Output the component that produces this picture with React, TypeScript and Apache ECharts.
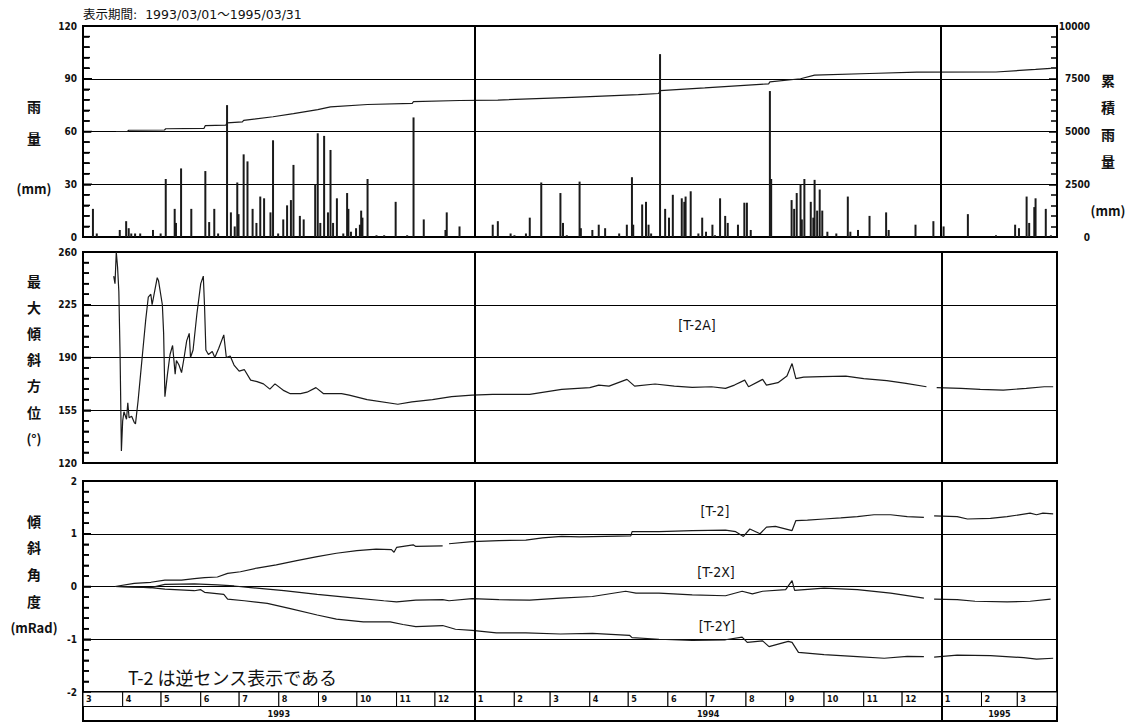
import React, { useEffect, useRef } from 'react';
import * as echarts from 'echarts';

// ---------- axis structure ----------
const AXIS_START = '1993-03-01';
const AXIS_END = '1995-04-01';
const yearBreaks = ['1994-01-01', '1995-01-01'];
const monthStarts = [
  '1993-03-01', '1993-04-01', '1993-05-01', '1993-06-01', '1993-07-01', '1993-08-01',
  '1993-09-01', '1993-10-01', '1993-11-01', '1993-12-01', '1994-01-01', '1994-02-01',
  '1994-03-01', '1994-04-01', '1994-05-01', '1994-06-01', '1994-07-01', '1994-08-01',
  '1994-09-01', '1994-10-01', '1994-11-01', '1994-12-01', '1995-01-01', '1995-02-01',
  '1995-03-01',
];
const monthLabels = ['3', '4', '5', '6', '7', '8', '9', '10', '11', '12', '1', '2', '3', '4', '5', '6', '7', '8', '9', '10', '11', '12', '1', '2', '3'];
const yearStarts = ['1993-03-01', '1994-01-01', '1995-01-01'];
const yearLabels = ['1993', '1994', '1995'];

// ---------- daily rainfall (mm) ----------
const rainfall: [string, number][] = [
  ['1993-03-08', 16], ['1993-03-11', 2], ['1993-03-29', 4], ['1993-04-03', 9], ['1993-04-05', 5],
  ['1993-04-07', 2], ['1993-04-10', 2], ['1993-04-14', 2], ['1993-04-24', 4], ['1993-04-30', 2],
  ['1993-05-04', 33], ['1993-05-11', 16], ['1993-05-12', 8], ['1993-05-16', 39], ['1993-05-24', 16],
  ['1993-06-04', 37.5], ['1993-06-07', 8.5], ['1993-06-11', 16], ['1993-06-14', 2], ['1993-06-21', 75],
  ['1993-06-24', 14], ['1993-06-27', 6], ['1993-06-29', 31], ['1993-06-30', 13], ['1993-07-04', 47],
  ['1993-07-07', 43], ['1993-07-11', 16], ['1993-07-14', 8], ['1993-07-17', 23], ['1993-07-20', 22],
  ['1993-07-25', 14], ['1993-07-27', 55], ['1993-07-31', 2], ['1993-08-04', 10], ['1993-08-07', 18],
  ['1993-08-10', 21], ['1993-08-12', 41], ['1993-08-17', 12], ['1993-08-20', 10], ['1993-08-29', 30],
  ['1993-08-31', 59], ['1993-09-02', 8], ['1993-09-05', 57.5], ['1993-09-08', 14], ['1993-09-10', 49.5],
  ['1993-09-12', 8], ['1993-09-15', 22], ['1993-09-20', 2], ['1993-09-23', 25], ['1993-09-24', 16],
  ['1993-09-26', 3], ['1993-09-30', 5], ['1993-10-03', 7], ['1993-10-04', 15], ['1993-10-05', 11],
  ['1993-10-09', 33], ['1993-10-16', 1], ['1993-10-22', 1], ['1993-10-31', 20], ['1993-11-09', 1],
  ['1993-11-14', 68], ['1993-11-22', 10], ['1993-12-09', 4], ['1993-12-10', 14], ['1993-12-20', 6],
  ['1994-01-15', 7], ['1994-01-19', 9], ['1994-01-29', 2], ['1994-02-01', 1], ['1994-02-10', 2],
  ['1994-02-13', 11], ['1994-02-22', 31], ['1994-03-09', 25], ['1994-03-11', 8], ['1994-03-14', 1],
  ['1994-03-24', 31.5], ['1994-03-25', 5], ['1994-04-03', 4], ['1994-04-08', 7], ['1994-04-13', 5],
  ['1994-04-24', 2], ['1994-04-30', 7], ['1994-05-04', 34], ['1994-05-05', 7], ['1994-05-12', 18.5],
  ['1994-05-15', 20], ['1994-05-17', 7], ['1994-05-19', 2], ['1994-05-26', 104], ['1994-05-30', 16],
  ['1994-06-02', 11], ['1994-06-05', 24], ['1994-06-12', 22], ['1994-06-14', 20], ['1994-06-15', 23],
  ['1994-06-19', 26], ['1994-06-25', 2], ['1994-06-28', 11], ['1994-07-01', 3], ['1994-07-06', 7],
  ['1994-07-08', 1], ['1994-07-12', 22], ['1994-07-16', 12], ['1994-07-18', 8], ['1994-07-26', 7],
  ['1994-07-31', 19.5], ['1994-08-02', 19.5], ['1994-08-05', 4], ['1994-08-20', 83], ['1994-08-21', 33],
  ['1994-09-06', 21], ['1994-09-08', 16], ['1994-09-10', 25], ['1994-09-13', 30], ['1994-09-14', 10],
  ['1994-09-16', 33], ['1994-09-21', 20], ['1994-09-23', 11], ['1994-09-24', 32.5], ['1994-09-26', 15],
  ['1994-09-28', 27], ['1994-09-30', 15], ['1994-10-04', 3], ['1994-10-11', 2], ['1994-10-20', 23],
  ['1994-10-22', 3], ['1994-10-28', 4], ['1994-11-06', 12], ['1994-11-19', 14], ['1994-11-21', 4],
  ['1994-12-12', 7], ['1994-12-26', 9], ['1995-01-03', 6], ['1995-01-22', 13], ['1995-02-13', 1],
  ['1995-02-28', 7], ['1995-03-03', 5], ['1995-03-09', 23], ['1995-03-11', 8], ['1995-03-15', 17],
  ['1995-03-16', 22], ['1995-03-24', 16], ['1995-03-28', 1],
];

// ---------- cumulative rainfall (mm, right axis) ----------
const cumulativeRain: [string, number][] = [
  ['1993-03-26', 5000], ['1993-04-04', 5000], ['1993-04-05', 5060], ['1993-05-03', 5070],
  ['1993-05-04', 5130], ['1993-06-03', 5150], ['1993-06-04', 5280], ['1993-06-20', 5300],
  ['1993-06-21', 5410], ['1993-07-03', 5460], ['1993-07-04', 5530], ['1993-07-27', 5700],
  ['1993-08-12', 5850], ['1993-08-31', 6040], ['1993-09-10', 6170], ['1993-10-09', 6280],
  ['1993-11-13', 6330], ['1993-11-14', 6420], ['1993-12-20', 6470], ['1994-01-19', 6490],
  ['1994-03-18', 6620], ['1994-05-09', 6750], ['1994-05-25', 6800], ['1994-05-26', 6940],
  ['1994-06-30', 7070], ['1994-08-19', 7260], ['1994-08-20', 7350], ['1994-09-13', 7500],
  ['1994-09-24', 7670], ['1994-11-06', 7750], ['1994-12-13', 7810], ['1995-02-13', 7820],
  ['1995-03-16', 7940], ['1995-03-28', 7990],
];

// ---------- max tilt azimuth [T-2A] (deg) ----------
const azimuthT2A: [string, number | null][] = [
  ['1993-03-25', 244], ['1993-03-26', 239], ['1993-03-27', 260], ['1993-03-28', 250], ['1993-03-29', 234],
  ['1993-03-30', 190], ['1993-03-31', 128], ['1993-04-01', 148], ['1993-04-02', 154], ['1993-04-04', 149],
  ['1993-04-05', 160], ['1993-04-06', 150], ['1993-04-08', 151], ['1993-04-10', 147], ['1993-04-11', 146],
  ['1993-04-13', 161], ['1993-04-15', 179], ['1993-04-17', 197], ['1993-04-19', 215], ['1993-04-21', 230],
  ['1993-04-23', 232], ['1993-04-24', 225], ['1993-04-26', 234], ['1993-04-28', 243], ['1993-04-29', 241],
  ['1993-05-02', 225], ['1993-05-03', 206], ['1993-05-04', 164], ['1993-05-06', 179], ['1993-05-08', 192],
  ['1993-05-10', 198], ['1993-05-12', 179], ['1993-05-13', 188], ['1993-05-15', 185], ['1993-05-17', 180],
  ['1993-05-19', 190], ['1993-05-21', 201], ['1993-05-23', 206], ['1993-05-24', 190], ['1993-05-26', 195],
  ['1993-05-29', 219], ['1993-06-01', 239], ['1993-06-03', 244], ['1993-06-04', 223], ['1993-06-05', 195],
  ['1993-06-07', 192], ['1993-06-10', 194], ['1993-06-12', 190], ['1993-06-15', 196], ['1993-06-19', 205],
  ['1993-06-21', 190], ['1993-06-24', 191], ['1993-06-27', 185], ['1993-07-01', 181], ['1993-07-05', 182],
  ['1993-07-10', 175], ['1993-07-15', 174], ['1993-07-20', 172.5], ['1993-07-25', 169], ['1993-07-29', 172.5],
  ['1993-08-05', 168], ['1993-08-10', 166], ['1993-08-18', 166], ['1993-08-23', 167], ['1993-08-30', 170],
  ['1993-09-05', 166], ['1993-09-13', 166], ['1993-09-19', 166], ['1993-09-25', 165], ['1993-10-09', 162],
  ['1993-11-02', 159], ['1993-11-13', 160.6], ['1993-11-29', 162], ['1993-12-14', 164], ['1993-12-30', 165],
  ['1994-01-15', 165.5], ['1994-02-13', 165.5], ['1994-03-10', 168.8], ['1994-04-01', 170], ['1994-04-08', 171.7],
  ['1994-04-16', 171], ['1994-04-30', 175.5], ['1994-05-06', 171], ['1994-05-22', 172.4], ['1994-06-06', 171],
  ['1994-06-20', 170.2], ['1994-07-05', 170.6], ['1994-07-16', 169.5], ['1994-07-23', 171.7], ['1994-07-31', 175],
  ['1994-08-03', 170.6], ['1994-08-14', 175.5], ['1994-08-17', 171.7], ['1994-08-26', 173.3], ['1994-09-02', 177.7],
  ['1994-09-06', 186], ['1994-09-09', 176], ['1994-09-15', 177], ['1994-09-29', 177.3], ['1994-10-18', 177.7],
  ['1994-11-01', 176], ['1994-11-19', 174.6], ['1994-12-04', 172.8], ['1994-12-20', 170.6], ['1994-12-24', null],
  ['1994-12-28', 170], ['1995-01-16', 169.5], ['1995-01-31', 168.8], ['1995-02-18', 168.4], ['1995-03-08', 169.5],
  ['1995-03-22', 170.6], ['1995-03-29', 170.6],
];

// ---------- tilt angle (mRad) ----------
const tiltT2: [string, number | null][] = [
  ['1993-03-26', 0], ['1993-04-10', 0.06], ['1993-04-23', 0.08], ['1993-05-04', 0.12], ['1993-05-17', 0.12],
  ['1993-05-27', 0.15], ['1993-06-04', 0.17], ['1993-06-14', 0.18], ['1993-06-22', 0.25], ['1993-07-02', 0.28],
  ['1993-07-15', 0.35], ['1993-07-30', 0.41], ['1993-08-15', 0.49], ['1993-08-31', 0.565], ['1993-09-15', 0.63],
  ['1993-10-01', 0.68], ['1993-10-16', 0.71], ['1993-10-28', 0.7], ['1993-10-30', 0.65], ['1993-11-01', 0.74],
  ['1993-11-14', 0.79], ['1993-11-16', 0.76], ['1993-12-07', 0.77], ['1993-12-10', null], ['1993-12-12', 0.81],
  ['1993-12-30', 0.85], ['1994-01-20', 0.87], ['1994-02-10', 0.88], ['1994-02-23', 0.92], ['1994-03-10', 0.95],
  ['1994-03-24', 0.94], ['1994-05-03', 0.96], ['1994-05-04', 1.04], ['1994-05-25', 1.04], ['1994-06-20', 1.06],
  ['1994-07-16', 1.07], ['1994-07-24', 1.04], ['1994-07-30', 0.95], ['1994-08-04', 1.09], ['1994-08-12', 1.0],
  ['1994-08-17', 1.125], ['1994-08-24', 1.14], ['1994-09-06', 1.06], ['1994-09-09', 1.25], ['1994-09-18', 1.26],
  ['1994-10-01', 1.28], ['1994-10-14', 1.3], ['1994-10-27', 1.325], ['1994-11-09', 1.36], ['1994-11-22', 1.36],
  ['1994-12-05', 1.325], ['1994-12-18', 1.31], ['1994-12-22', null], ['1994-12-26', 1.34], ['1995-01-13', 1.325],
  ['1995-01-21', 1.28], ['1995-02-08', 1.29], ['1995-02-21', 1.325], ['1995-03-11', 1.39], ['1995-03-16', 1.36],
  ['1995-03-21', 1.39], ['1995-03-29', 1.375],
];
const tiltT2X: [string, number | null][] = [
  ['1993-03-26', 0], ['1993-04-23', -0.02], ['1993-05-04', 0.04], ['1993-05-27', 0.05], ['1993-06-14', 0.03],
  ['1993-06-27', 0.01], ['1993-07-10', -0.02], ['1993-08-05', -0.08], ['1993-08-31', -0.15], ['1993-09-26', -0.21],
  ['1993-10-22', -0.27], ['1993-11-01', -0.29], ['1993-11-16', -0.26], ['1993-12-07', -0.25], ['1993-12-12', -0.27],
  ['1993-12-30', -0.23], ['1994-01-20', -0.25], ['1994-02-13', -0.26], ['1994-03-09', -0.22], ['1994-04-03', -0.19],
  ['1994-04-29', -0.09], ['1994-05-07', -0.125], ['1994-05-25', -0.125], ['1994-06-20', -0.16], ['1994-07-16', -0.175],
  ['1994-07-29', -0.09], ['1994-08-06', -0.14], ['1994-08-14', -0.09], ['1994-09-01', -0.06], ['1994-09-06', 0.11],
  ['1994-09-08', -0.075], ['1994-10-01', -0.03], ['1994-10-27', -0.06], ['1994-11-22', -0.125], ['1994-12-18', -0.22],
  ['1994-12-22', null], ['1994-12-26', -0.24], ['1995-01-13', -0.25], ['1995-01-27', -0.28], ['1995-02-21', -0.29],
  ['1995-03-11', -0.28], ['1995-03-27', -0.24],
];
const tiltT2Y: [string, number | null][] = [
  ['1993-03-26', 0], ['1993-04-23', -0.02], ['1993-05-04', -0.05], ['1993-05-27', -0.08], ['1993-06-01', -0.06],
  ['1993-06-04', -0.11], ['1993-06-19', -0.15], ['1993-06-22', -0.24], ['1993-07-05', -0.27], ['1993-07-23', -0.32],
  ['1993-08-10', -0.42], ['1993-08-31', -0.54], ['1993-09-15', -0.62], ['1993-10-06', -0.67], ['1993-10-27', -0.67],
  ['1993-11-06', -0.72], ['1993-11-16', -0.76], ['1993-12-07', -0.74], ['1993-12-17', -0.81], ['1993-12-30', -0.83],
  ['1994-01-18', -0.88], ['1994-02-10', -0.88], ['1994-03-09', -0.9], ['1994-04-03', -0.89], ['1994-05-02', -0.925],
  ['1994-05-04', -0.97], ['1994-05-25', -1.0], ['1994-06-20', -1.02], ['1994-07-16', -1.01], ['1994-07-29', -0.96],
  ['1994-08-02', -1.06], ['1994-08-14', -1.03], ['1994-08-19', -1.14], ['1994-09-03', -1.04], ['1994-09-06', -1.06],
  ['1994-09-11', -1.25], ['1994-10-01', -1.29], ['1994-10-27', -1.33], ['1994-11-17', -1.36], ['1994-12-05', -1.325],
  ['1994-12-18', -1.33], ['1994-12-22', null], ['1994-12-26', -1.34], ['1995-01-13', -1.3], ['1995-02-08', -1.31],
  ['1995-03-06', -1.35], ['1995-03-16', -1.375], ['1995-03-29', -1.36],
];

// left-axis tick ranges: [min, max, minor step] per panel
const leftTickRanges: [number, number, number][] = [
  [0, 120, 6],
  [120, 260, 7],
  [-2, 2, 0.2],
];

// ---------- helpers ----------
const ts = (s: string) => {
  const [y, m, d] = s.split('-').map(Number);
  return new Date(y, m - 1, d).getTime();
};
const toSeries = (arr: [string, number | null][]) => arr.map(([d, v]) => [ts(d), v]);

const NUM_FONT = '"DejaVu Sans Condensed", "DejaVu Sans", sans-serif';
const JP_FONT = '"Noto Sans CJK JP", "Noto Sans", sans-serif';
const INK = '#111';

const vText = (chars: string[], x: number, ys: number[], size = 14) =>
  chars.map((c, i) => ({
    type: 'text',
    x,
    y: ys[i],
    silent: true,
    style: {
      text: c,
      fill: INK,
      fontSize: c.startsWith('(') ? 13 : size,
      fontWeight: 'bold',
      fontFamily: JP_FONT,
      align: 'center',
      verticalAlign: 'middle',
      textAlign: 'center',
      textVerticalAlign: 'middle',
    },
  }));

const plainText = (text: string, x: number, y: number, size: number, family: string, align = 'center', weight = 'normal') => ({
  type: 'text',
  x,
  y,
  silent: true,
  style: {
    text,
    fill: INK,
    fontSize: size,
    fontFamily: family,
    fontWeight: weight,
    align,
    verticalAlign: 'middle',
    textAlign: align,
    textVerticalAlign: 'middle',
  },
});

const yearMarkLine = {
  silent: true,
  symbol: ['none', 'none'],
  label: { show: false },
  lineStyle: { color: '#000', width: 2, type: 'solid' },
  data: yearBreaks.map((d) => ({ xAxis: ts(d) })),
};

const gridBase = { left: 83, right: 70, show: true, borderColor: '#000', borderWidth: 2 };

const xAxisBase = (gridIndex: number) => ({
  type: 'time',
  gridIndex,
  min: ts(AXIS_START),
  max: ts(AXIS_END),
  show: false,
});

const yAxisBase = (gridIndex: number, min: number, max: number, interval: number) => ({
  type: 'value',
  gridIndex,
  min,
  max,
  interval,
  axisLine: { show: true, onZero: false, lineStyle: { color: '#000', width: 2 } },
  axisTick: { show: true, inside: true, length: 8, lineStyle: { color: '#000', width: 1.5 } },
  minorTick: { show: true, splitNumber: 5, length: 6, lineStyle: { color: '#000', width: 1.5 } },
  axisLabel: {
    color: INK,
    fontSize: 10,
    fontWeight: 'bold',
    fontFamily: NUM_FONT,
    margin: 6,
    formatter: (v: number) => String(v),
  },
  splitLine: { show: true, lineStyle: { color: '#000', width: 1 } },
});

const monthCells = monthStarts.map((s, i) => [ts(s), ts(monthStarts[i + 1] ?? AXIS_END)]);
const yearCells = yearStarts.map((s, i) => [ts(s), ts(yearStarts[i + 1] ?? AXIS_END)]);

// custom series drawing inward tick marks on the left edge of a panel, through the panel's scales
const leftTickSeries = (panel: number, yAxisIndex: number) => {
  const [min, max, step] = leftTickRanges[panel];
  return {
    type: 'custom',
    name: `ticks-${panel}`,
    xAxisIndex: panel,
    yAxisIndex,
    silent: true,
    z: 10,
    clip: false,
    data: [[ts(AXIS_START), min]],
    renderItem: (_params: any, api: any) => {
      const n = Math.round((max - min) / step);
      const children: any[] = [];
      for (let k = 0; k <= n; k++) {
        const p = api.coord([ts(AXIS_START), min + k * step]);
        const len = k % 5 === 0 ? 8 : 6;
        children.push({
          type: 'line',
          shape: { x1: p[0], y1: p[1], x2: p[0] + len, y2: p[1] },
          style: { stroke: '#000', lineWidth: 1.5 },
        });
      }
      return { type: 'group', children };
    },
  };
};

export default function App() {
  const ref = useRef<HTMLDivElement>(null);

  useEffect(() => {
    if (!ref.current) return;
    const chart = echarts.init(ref.current, null, { renderer: 'svg' });

    const lineStyle = { color: '#1a1a1a', width: 1.2 };

    const option: any = {
      animation: false,
      backgroundColor: '#fff',
      grid: [
        { ...gridBase, top: 26, height: 211 },
        { ...gridBase, top: 252, height: 211 },
        { ...gridBase, top: 481, height: 211 },
        { ...gridBase, top: 692, height: 29 },
      ],
      xAxis: [xAxisBase(0), xAxisBase(1), xAxisBase(2), xAxisBase(3)],
      yAxis: [
        yAxisBase(0, 0, 120, 30),
        {
          ...yAxisBase(0, 0, 10000, 2500),
          position: 'right',
          splitLine: { show: false },
          axisLabel: {
            color: INK,
            fontSize: 10,
            fontWeight: 'bold',
            fontFamily: NUM_FONT,
            margin: 33,
            align: 'right',
            formatter: (v: number) => String(v),
          },
        },
        yAxisBase(1, 120, 260, 35),
        yAxisBase(2, -2, 2, 1),
        { type: 'value', gridIndex: 3, min: 0, max: 2, show: false },
      ],
      series: [
        {
          type: 'bar',
          name: '雨量',
          xAxisIndex: 0,
          yAxisIndex: 0,
          barWidth: 2,
          itemStyle: { color: '#1a1a1a' },
          data: rainfall.map(([d, v]) => [ts(d), v]),
          markLine: yearMarkLine,
        },
        {
          type: 'line',
          name: '累積雨量',
          xAxisIndex: 0,
          yAxisIndex: 1,
          symbol: 'none',
          lineStyle,
          data: cumulativeRain.map(([d, v]) => [ts(d), v]),
        },
        {
          type: 'line',
          name: 'T-2A',
          xAxisIndex: 1,
          yAxisIndex: 2,
          symbol: 'none',
          connectNulls: false,
          lineStyle,
          data: toSeries(azimuthT2A),
          markLine: yearMarkLine,
        },
        {
          type: 'line',
          name: 'T-2',
          xAxisIndex: 2,
          yAxisIndex: 3,
          symbol: 'none',
          connectNulls: false,
          lineStyle,
          data: toSeries(tiltT2),
          markLine: yearMarkLine,
        },
        {
          type: 'line',
          name: 'T-2X',
          xAxisIndex: 2,
          yAxisIndex: 3,
          symbol: 'none',
          connectNulls: false,
          lineStyle,
          data: toSeries(tiltT2X),
        },
        {
          type: 'line',
          name: 'T-2Y',
          xAxisIndex: 2,
          yAxisIndex: 3,
          symbol: 'none',
          connectNulls: false,
          lineStyle,
          data: toSeries(tiltT2Y),
        },
        leftTickSeries(0, 0),
        leftTickSeries(1, 2),
        leftTickSeries(2, 3),
        {
          type: 'custom',
          name: 'months',
          xAxisIndex: 3,
          yAxisIndex: 4,
          silent: true,
          data: monthCells,
          renderItem: (params: any, api: any) => {
            const p0 = api.coord([api.value(0), 2]);
            const p1 = api.coord([api.value(1), 1]);
            return {
              type: 'group',
              children: [
                {
                  type: 'rect',
                  shape: { x: p0[0], y: p0[1], width: p1[0] - p0[0], height: p1[1] - p0[1] },
                  style: { fill: '#fff', stroke: '#000', lineWidth: 1 },
                },
                {
                  type: 'text',
                  x: p0[0] + 3,
                  y: p0[1] + 2,
                  style: {
                    text: monthLabels[params.dataIndex],
                    fill: INK,
                    fontSize: 9,
                    fontWeight: 'bold',
                    fontFamily: NUM_FONT,
                    align: 'left',
                    verticalAlign: 'top',
                  },
                },
              ],
            };
          },
          markLine: yearMarkLine,
        },
        {
          type: 'custom',
          name: 'years',
          xAxisIndex: 3,
          yAxisIndex: 4,
          silent: true,
          data: yearCells,
          renderItem: (params: any, api: any) => {
            const p0 = api.coord([api.value(0), 1]);
            const p1 = api.coord([api.value(1), 0]);
            return {
              type: 'group',
              children: [
                {
                  type: 'rect',
                  shape: { x: p0[0], y: p0[1], width: p1[0] - p0[0], height: p1[1] - p0[1] },
                  style: { fill: 'none', stroke: '#000', lineWidth: 1 },
                },
                {
                  type: 'text',
                  x: (p0[0] + p1[0]) / 2,
                  y: (p0[1] + p1[1]) / 2,
                  style: {
                    text: yearLabels[params.dataIndex],
                    fill: INK,
                    fontSize: 9,
                    fontWeight: 'bold',
                    fontFamily: NUM_FONT,
                    align: 'center',
                    verticalAlign: 'middle',
                  },
                },
              ],
            };
          },
        },
      ],
      graphic: [
        plainText('表示期間:  1993/03/01～1995/03/31', 83, 14, 12.5, '"DejaVu Sans", "Noto Sans CJK JP", sans-serif', 'left'),
        ...vText(['雨', '量', '(mm)'], 34, [106, 138, 188]),
        ...vText(['最', '大', '傾', '斜', '方', '位', '(°)'], 34, [281, 307, 333, 359, 385, 412, 438]),
        ...vText(['傾', '斜', '角', '度', '(mRad)'], 34, [521, 547, 574, 601, 627]),
        ...vText(['累', '積', '雨', '量', '(mm)'], 1108, [80, 107, 134, 161, 210]),
        plainText('[T-2A]', 697, 325, 14, NUM_FONT),
        plainText('[T-2]', 715, 511, 14, NUM_FONT),
        plainText('[T-2X]', 716, 572, 14, NUM_FONT),
        plainText('[T-2Y]', 717, 626, 14, NUM_FONT),
        plainText('T-2 は逆センス表示である', 128, 677, 18, JP_FONT, 'left'),
      ],
    };

    chart.setOption(option);
    return () => chart.dispose();
  }, []);

  return (
    <div
      ref={ref}
      style={{ position: 'fixed', left: 0, top: 0, width: 1127, height: 725, background: '#fff' }}
    />
  );
}
